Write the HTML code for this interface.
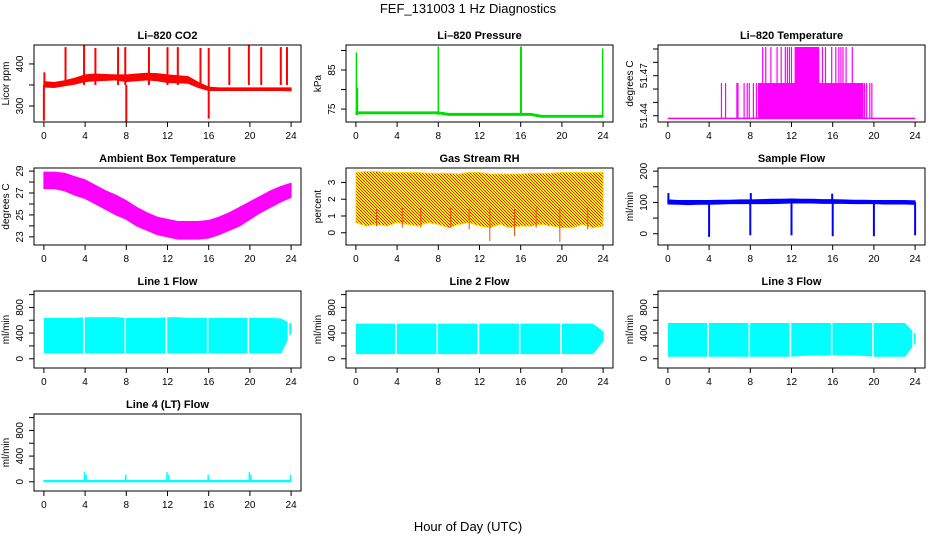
<!DOCTYPE html>
<html><head><meta charset="utf-8">
<style>
html,body{margin:0;padding:0;background:#fff;}
svg{display:block;font-family:"Liberation Sans",sans-serif;}
</style></head>
<body>
<svg id="fig" width="936" height="540" viewBox="0 0 936 540" xmlns="http://www.w3.org/2000/svg">
<defs>
<pattern id="rhpat" width="3" height="3" patternUnits="userSpaceOnUse">
<rect width="3" height="3" fill="#ffff00"/><rect width="1" height="1" fill="#ff0000"/><rect x="1" y="1" width="1" height="1" fill="#ff0000"/><rect x="2" y="2" width="1" height="1" fill="#ff0000"/>
</pattern>
</defs>
<text x="468" y="13" text-anchor="middle" font-size="13">FEF_131003  1 Hz Diagnostics</text>
<text x="468" y="531" text-anchor="middle" font-size="13">Hour of Day (UTC)</text>
</svg>
<script>
// ---------- data ----------
const xTicks = [0,4,8,12,16,20,24];
const hours = [0,1,2,3,4,5,6,7,8,9,10,11,12,13,14,15,16,17,18,19,20,21,22,23,24];

// CO2 (ppm)
const co2Lo = [345,344,348,352,358,360,361,362,358,360,362,360,356,355,354,344,337,337,337,337,337,337,337,337,336];
const co2Hi = [358,356,360,366,374,376,375,374,374,376,378,377,374,372,370,356,345,343,343,343,343,343,343,343,343];
const co2SpikeH = [0.05,2.1,3.9,5.0,7.2,7.9,10.2,12.0,13.0,15.2,16.0,18.0,19.9,21.1,23.0,23.6,0.0,8.0,16.0];
const co2SpikeV = [380,440,445,438,440,440,440,440,440,438,438,440,445,440,440,440,265,263,270];

// Pressure (kPa)
const presLo = [73.8,73.8,73.8,73.8,73.8,73.8,73.8,73.8,73.8,73.4,73.4,73.4,73.4,73.4,73.4,73.4,73.4,73.4,72.9,72.9,72.9,72.9,72.9,72.9,72.9];
const presHi = [74.3,74.3,74.3,74.3,74.3,74.3,74.3,74.3,74.3,73.9,73.9,73.9,73.9,73.9,73.9,73.9,73.9,73.9,73.4,73.4,73.4,73.4,73.4,73.4,73.4];
const presSpikeH = [0.05,0.15,8.0,16.0,16.05,23.95];
const presSpikeV = [89.5,80.5,91,91,91,90.5];

// Li-820 temperature (deg C)
const tBase = 51.438, tMid = 51.4645, tTop = 51.4915;
const tMidBlock = [8.75,19.0];
const tTopBlock = [12.3,14.7];
const tMidLines = [5.2,5.6,6.7,6.8,7.4,7.7,7.9,8.3,8.6,18.9,19.1,19.3,19.6,19.8];
const tTopLines = [9.2,9.5,10.0,10.6,11.0,11.4,11.6,11.8,12.0,15.0,15.3,15.9,16.3,16.6,16.8,17.0,17.3,17.9];

// Ambient box temperature
const ambLo = [27.4,27.4,27.2,26.8,26.5,26.0,25.5,25.0,24.6,24.0,23.6,23.2,23.0,22.8,22.8,22.8,22.9,23.2,23.6,24.0,24.6,25.2,25.7,26.2,26.6];
const ambHi = [28.9,28.9,28.8,28.5,28.2,27.7,27.2,26.8,26.3,25.7,25.2,24.8,24.6,24.4,24.4,24.4,24.5,24.8,25.2,25.7,26.2,26.7,27.2,27.6,27.9];

// Gas stream RH (percent)
const rhLo = [0.6,0.4,0.5,0.4,0.6,0.5,0.4,0.6,0.5,0.3,0.5,0.6,0.4,0.3,0.5,0.3,0.4,0.4,0.5,0.4,0.3,0.3,0.5,0.3,0.4];
const rhHi = [3.6,3.65,3.65,3.6,3.6,3.6,3.6,3.55,3.55,3.55,3.5,3.6,3.6,3.5,3.5,3.5,3.5,3.55,3.55,3.55,3.6,3.6,3.6,3.6,3.6];
const rhDipH = [13.0,15.4,19.8,6.3,9.2,2.0,4.5,11.0,17.5,22.5];
const rhDipV = [-0.5,-0.2,-0.55,0.3,0.3,0.4,0.3,0.2,0.3,0.2];

// Sample flow (ml/min)
const sfLo = [95,94,93,94,94,95,96,96,96,96,96,97,98,98,98,97,97,97,96,96,96,95,95,95,94];
const sfHi = [108,106,106,106,106,107,107,108,108,109,110,110,111,110,110,109,109,108,107,107,106,106,106,106,105];
const sfSpikeH = [4,8,12,16,20,24,0.05,8.05,15.95];
const sfSpikeV = [-10,-5,-5,-8,-8,-5,130,130,128];

// Line flows (ml/min)
const l1Lo = [90,90,90,90,90,90,90,90,90,90,90,90,90,90,90,90,90,90,90,90,90,90,90,90,420];
const l1Hi = [630,630,630,630,640,640,640,640,630,630,630,630,640,640,630,630,630,630,630,630,630,630,630,620,540];
const l1Gaps = [3.9,7.9,11.9,15.9,19.85,23.75];
const l2Lo = [80,80,80,80,80,80,80,80,80,80,80,80,80,80,80,80,80,80,80,80,80,80,80,80,280];
const l2Hi = [540,540,540,540,540,540,540,540,540,540,540,540,540,540,540,540,540,540,540,540,540,540,540,540,420];
const l2Gaps = [3.9,7.9,11.9,15.9,19.9];
const l3Lo = [40,40,40,40,40,40,40,40,40,40,40,40,40,50,60,60,60,60,60,50,40,40,40,40,250];
const l3Hi = [550,550,550,550,550,550,550,550,550,550,550,550,550,550,550,550,550,550,550,550,550,550,550,550,380];
const l3Gaps = [3.9,7.9,11.9,15.9,19.9,23.8];
const l4Lo = [0,0,0,0,0,0,0,0,0,0,0,0,0,0,0,0,0,0,0,0,0,0,0,0,0];
const l4Hi = [20,20,20,20,20,20,20,20,20,20,20,20,20,20,20,20,20,20,20,20,20,20,20,20,20];
const l4SpikeH = [3.95,4.1,7.95,11.95,12.1,15.95,19.95,20.1,23.95];
const l4SpikeV = [150,110,110,150,110,110,150,110,110];

// ---------- layout ----------
const NS = "http://www.w3.org/2000/svg";
const svg = document.getElementById('fig');
const colX = [34,346,658], rowY = [45,168,291,414], PW = 267, PH = 77;
const xDom = [-0.96,24.96];

function el(tag, attrs, parent){
  const e = document.createElementNS(NS, tag);
  for (const k in attrs) e.setAttribute(k, attrs[k]);
  (parent||svg).appendChild(e);
  return e;
}

function panel(col,row,cfg){
  const g = el('g',{});
  
  
  const x0 = colX[col], y0 = rowY[row];
  const sx = h => x0 + (h - xDom[0]) / (xDom[1]-xDom[0]) * PW;
  const sy = v => y0 + PH - (v - cfg.yDom[0]) / (cfg.yDom[1]-cfg.yDom[0]) * PH;
  const clip = el('clipPath',{id:'c'+cfg.name}, g);
  el('rect',{x:x0,y:y0,width:PW,height:PH}, clip);
  const dg = el('g',{'clip-path':'url(#c'+cfg.name+')'}, g);
  
  
  cfg.draw(dg, sx, sy);
  const box = el('rect',{x:x0,y:y0,width:PW,height:PH,fill:'none',stroke:'#000','stroke-width':1}, g);
  
  
  const t = el('text',{x:x0+PW/2,y:y0-6,'text-anchor':'middle','font-size':11,'font-weight':'bold'}, g);
  t.textContent = cfg.title;
  
  
  const xa = el('g',{}, g);
  
  
  el('line',{x1:sx(xTicks[0]),x2:sx(xTicks[xTicks.length-1]),y1:y0+PH,y2:y0+PH,stroke:'#000'}, xa);
  xTicks.forEach(v=>{
    el('line',{x1:sx(v),x2:sx(v),y1:y0+PH,y2:y0+PH+5,stroke:'#000'}, xa);
    const tl = el('text',{x:sx(v),y:y0+PH+17,'text-anchor':'middle','font-size':10}, xa);
    tl.textContent = v;
  });
  const ya = el('g',{}, g);
  
  
  cfg.yTicks.forEach((v,i)=>{
    el('line',{x1:x0,x2:x0-5,y1:sy(v),y2:sy(v),stroke:'#000'}, ya);
    if (cfg.yLabels[i] !== '') {
      const tl = el('text',{x:x0-11,y:sy(v),'text-anchor':'middle','font-size':10,transform:`rotate(-90 ${x0-11} ${sy(v)})`}, ya);
      tl.textContent = cfg.yLabels[i];
    }
  });
  const yt = el('text',{x:x0-25,y:y0+PH/2,'text-anchor':'middle','font-size':10,transform:`rotate(-90 ${x0-25} ${y0+PH/2})`}, ya);
  yt.textContent = cfg.ylab;
  
  
}

function band(g,sx,sy,lo,hi,fill,h0,h1){
  const pts = [];
  const hs = hours.map(h=>Math.min(Math.max(h,h0),h1));
  hs.forEach((h,i)=>pts.push(sx(h)+','+sy(hi[i])));
  for (let i=hs.length-1;i>=0;i--) pts.push(sx(hs[i])+','+sy(lo[i]));
  const p = el('polygon',{points:pts.join(' '),fill:fill,stroke:fill,'stroke-width':1}, g);
  
  
  return p;
}
function vline(g,sx,sy,h,v0,v1,color,w){
  const l = el('line',{x1:sx(h),x2:sx(h),y1:sy(v0),y2:sy(v1),stroke:color,'stroke-width':w||1.5}, g);
  
  
}
function gaps(g,sx,sy,gs,yTop,yBot){
  gs.forEach(h=>{
    const l = el('line',{x1:sx(h),x2:sx(h),y1:sy(yTop),y2:sy(yBot),stroke:'#fff','stroke-width':1.6}, g);
    
    
  });
}

const flowTicks = [0,200,400,600,800,1000];
const flowLabels = ['0','','400','','800',''];
const flowDom = [-144,1056];

panel(0,0,{name:'co2',title:'Li\u2013820 CO2',ylab:'Licor ppm',yDom:[262,445],yTicks:[300,350,400],yLabels:['300','','400'],
  draw:(g,sx,sy)=>{ band(g,sx,sy,co2Lo,co2Hi,'#ff0000',0,24);
    co2SpikeH.forEach((h,i)=>vline(g,sx,sy,h,350,co2SpikeV[i],'#ff0000',2)); }});
panel(1,0,{name:'pressure',title:'Li\u2013820 Pressure',ylab:'kPa',yDom:[71.7,91.4],yTicks:[75,80,85,90],yLabels:['75','','85',''],
  draw:(g,sx,sy)=>{ band(g,sx,sy,presLo,presHi,'#00dd00',0,24);
    presSpikeH.forEach((h,i)=>vline(g,sx,sy,h,73.5,presSpikeV[i],'#00dd00',1.5)); }});
panel(2,0,{name:'licor-temp',title:'Li\u2013820 Temperature',ylab:'degrees C',yDom:[51.4353,51.493],
  yTicks:[51.44,51.45,51.46,51.47,51.48,51.49],yLabels:['51.44','','','51.47','',''],
  draw:(g,sx,sy)=>{
    const m='#ff00ff';
    el('line',{x1:sx(0),x2:sx(24),y1:sy(tBase),y2:sy(tBase),stroke:m,'stroke-width':1.5},g);
    el('rect',{x:sx(tMidBlock[0]),y:sy(tMid),width:sx(tMidBlock[1])-sx(tMidBlock[0]),height:sy(tBase)-sy(tMid),fill:m},g);
    el('rect',{x:sx(tTopBlock[0]),y:sy(tTop),width:sx(tTopBlock[1])-sx(tTopBlock[0]),height:sy(tBase)-sy(tTop),fill:m},g);
    tMidLines.forEach(h=>vline(g,sx,sy,h,tBase,tMid,m,1.2));
    tTopLines.forEach(h=>vline(g,sx,sy,h,tBase,tTop,m,1.2)); }});
panel(0,1,{name:'ambient-temp',title:'Ambient Box Temperature',ylab:'degrees C',yDom:[22.26,29.28],yTicks:[23,24,25,26,27,28,29],yLabels:['23','','25','','27','','29'],
  draw:(g,sx,sy)=>{ band(g,sx,sy,ambLo,ambHi,'#ff00ff',0,24); }});
panel(1,1,{name:'gas-rh',title:'Gas Stream RH',ylab:'percent',yDom:[-0.73,3.86],yTicks:[0,1,2,3],yLabels:['0','1','2','3'],
  draw:(g,sx,sy)=>{ band(g,sx,sy,rhLo,rhHi,'url(#rhpat)',0,24).setAttribute('stroke','#ffdd00');
    rhDipH.forEach((h,i)=>vline(g,sx,sy,h,1.5,rhDipV[i],'#ff4400',1)); }});
panel(2,1,{name:'sample-flow',title:'Sample Flow',ylab:'ml/min',yDom:[-36,210],yTicks:[0,50,100,150,200],yLabels:['0','','100','','200'],
  draw:(g,sx,sy)=>{ band(g,sx,sy,sfLo,sfHi,'#0000ff',0,24);
    sfSpikeH.forEach((h,i)=>vline(g,sx,sy,h,100,sfSpikeV[i],'#0000ff',2)); }});
panel(0,2,{name:'line1-flow',title:'Line 1 Flow',ylab:'ml/min',yDom:flowDom,yTicks:flowTicks,yLabels:flowLabels,
  draw:(g,sx,sy)=>{ band(g,sx,sy,l1Lo,l1Hi,'#00ffff',0.05,24); gaps(g,sx,sy,l1Gaps,700,60); }});
panel(1,2,{name:'line2-flow',title:'Line 2 Flow',ylab:'ml/min',yDom:flowDom,yTicks:flowTicks,yLabels:flowLabels,
  draw:(g,sx,sy)=>{ band(g,sx,sy,l2Lo,l2Hi,'#00ffff',0.05,24); gaps(g,sx,sy,l2Gaps,600,60); }});
panel(2,2,{name:'line3-flow',title:'Line 3 Flow',ylab:'ml/min',yDom:flowDom,yTicks:flowTicks,yLabels:flowLabels,
  draw:(g,sx,sy)=>{ band(g,sx,sy,l3Lo,l3Hi,'#00ffff',0.05,24); gaps(g,sx,sy,l3Gaps,600,20); }});
panel(0,3,{name:'line4-flow',title:'Line 4 (LT) Flow',ylab:'ml/min',yDom:flowDom,yTicks:flowTicks,yLabels:flowLabels,
  draw:(g,sx,sy)=>{ band(g,sx,sy,l4Lo,l4Hi,'#00ffff',0,24);
    l4SpikeH.forEach((h,i)=>vline(g,sx,sy,h,10,l4SpikeV[i],'#00ffff',1.5)); }});
</script>
</body></html>
